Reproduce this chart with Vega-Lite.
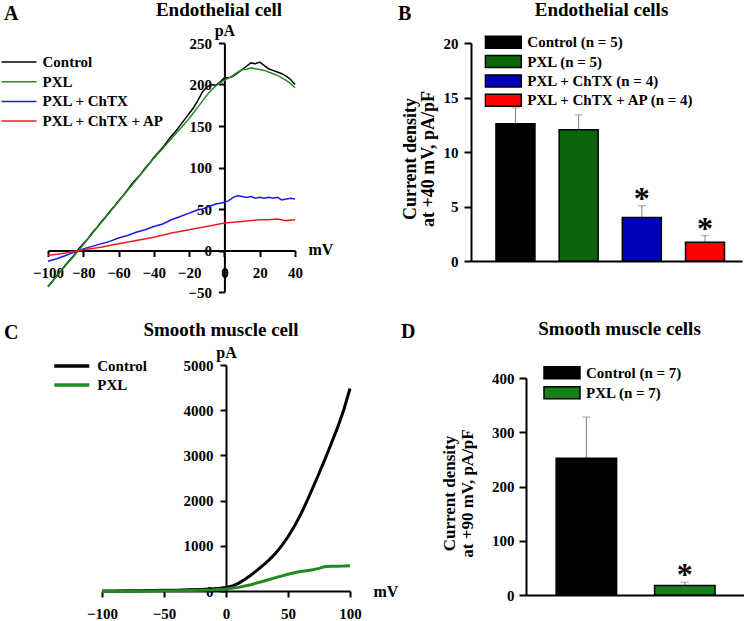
{
  "$schema": "https://vega.github.io/schema/vega-lite/v6.json",
  "background": "white",
  "padding": 0,
  "config": {
    "view": {"stroke": null},
    "font": "Liberation Serif",
    "axis": {"domainColor": "black", "domainWidth": 2, "tickColor": "black", "tickWidth": 2, "tickSize": 6, "labelFont": "Liberation Serif", "labelFontWeight": "bold", "labelColor": "black", "labelFontSize": 15, "titleFont": "Liberation Serif", "titleFontWeight": "bold", "titleColor": "black", "titleFontSize": 16, "grid": false, "labelOverlap": false, "labelFlush": false, "labelBound": false},
    "legend": {"labelFont": "Liberation Serif", "labelFontWeight": "bold", "labelFontSize": 15, "labelColor": "black", "labelLimit": 0, "padding": 0, "title": null},
    "title": {"font": "Liberation Serif", "fontWeight": "bold", "fontSize": 19, "color": "black", "offset": 0, "baseline": "alphabetic", "frame": "group"}
  },
  "resolve": {"scale": {"color": "independent"}, "legend": {"color": "independent"}},
  "datasets": {
    "ec": [
      {"trace": "Control", "mV": -100, "pA": -43}, {"trace": "Control", "mV": -97.5, "pA": -37}, {"trace": "Control", "mV": -95, "pA": -30}, {"trace": "Control", "mV": -92.5, "pA": -24}, {"trace": "Control", "mV": -90, "pA": -17}, {"trace": "Control", "mV": -87.5, "pA": -11}, {"trace": "Control", "mV": -85, "pA": -5}, {"trace": "Control", "mV": -82.5, "pA": 2}, {"trace": "Control", "mV": -80, "pA": 8}, {"trace": "Control", "mV": -77.5, "pA": 14}, {"trace": "Control", "mV": -75, "pA": 21}, {"trace": "Control", "mV": -72.5, "pA": 27}, {"trace": "Control", "mV": -70, "pA": 34}, {"trace": "Control", "mV": -67.5, "pA": 40}, {"trace": "Control", "mV": -65, "pA": 47}, {"trace": "Control", "mV": -62.5, "pA": 53}, {"trace": "Control", "mV": -60, "pA": 60}, {"trace": "Control", "mV": -57.5, "pA": 66}, {"trace": "Control", "mV": -55, "pA": 73}, {"trace": "Control", "mV": -52.5, "pA": 80}, {"trace": "Control", "mV": -50, "pA": 86}, {"trace": "Control", "mV": -47.5, "pA": 92}, {"trace": "Control", "mV": -45, "pA": 99}, {"trace": "Control", "mV": -42.5, "pA": 105}, {"trace": "Control", "mV": -40, "pA": 112}, {"trace": "Control", "mV": -37.5, "pA": 118}, {"trace": "Control", "mV": -35, "pA": 124}, {"trace": "Control", "mV": -32.5, "pA": 131}, {"trace": "Control", "mV": -30, "pA": 138}, {"trace": "Control", "mV": -27.5, "pA": 144}, {"trace": "Control", "mV": -25, "pA": 151}, {"trace": "Control", "mV": -22.5, "pA": 158}, {"trace": "Control", "mV": -20, "pA": 165}, {"trace": "Control", "mV": -17.5, "pA": 172}, {"trace": "Control", "mV": -15, "pA": 181}, {"trace": "Control", "mV": -12.5, "pA": 191}, {"trace": "Control", "mV": -10, "pA": 197}, {"trace": "Control", "mV": -7.5, "pA": 200}, {"trace": "Control", "mV": -5, "pA": 199}, {"trace": "Control", "mV": -2.5, "pA": 203}, {"trace": "Control", "mV": 0, "pA": 208}, {"trace": "Control", "mV": 2.5, "pA": 208}, {"trace": "Control", "mV": 5, "pA": 210}, {"trace": "Control", "mV": 7.5, "pA": 214}, {"trace": "Control", "mV": 10, "pA": 218}, {"trace": "Control", "mV": 12.5, "pA": 222}, {"trace": "Control", "mV": 15, "pA": 226}, {"trace": "Control", "mV": 17.5, "pA": 225}, {"trace": "Control", "mV": 20, "pA": 227}, {"trace": "Control", "mV": 22.5, "pA": 223}, {"trace": "Control", "mV": 25, "pA": 219}, {"trace": "Control", "mV": 27.5, "pA": 217}, {"trace": "Control", "mV": 30, "pA": 215}, {"trace": "Control", "mV": 32.5, "pA": 213}, {"trace": "Control", "mV": 35, "pA": 210}, {"trace": "Control", "mV": 37.5, "pA": 206}, {"trace": "Control", "mV": 40, "pA": 200},
      {"trace": "PXL", "mV": -100, "pA": -44}, {"trace": "PXL", "mV": -95, "pA": -31}, {"trace": "PXL", "mV": -90, "pA": -18}, {"trace": "PXL", "mV": -85, "pA": -6}, {"trace": "PXL", "mV": -80, "pA": 7}, {"trace": "PXL", "mV": -75, "pA": 20}, {"trace": "PXL", "mV": -70, "pA": 33}, {"trace": "PXL", "mV": -65, "pA": 46}, {"trace": "PXL", "mV": -60, "pA": 59}, {"trace": "PXL", "mV": -55, "pA": 72}, {"trace": "PXL", "mV": -50, "pA": 85}, {"trace": "PXL", "mV": -45, "pA": 98}, {"trace": "PXL", "mV": -40, "pA": 111}, {"trace": "PXL", "mV": -37.5, "pA": 117}, {"trace": "PXL", "mV": -35, "pA": 123}, {"trace": "PXL", "mV": -32.5, "pA": 129}, {"trace": "PXL", "mV": -30, "pA": 135}, {"trace": "PXL", "mV": -27.5, "pA": 141}, {"trace": "PXL", "mV": -25, "pA": 147}, {"trace": "PXL", "mV": -22.5, "pA": 153}, {"trace": "PXL", "mV": -20, "pA": 159}, {"trace": "PXL", "mV": -17.5, "pA": 166}, {"trace": "PXL", "mV": -15, "pA": 173}, {"trace": "PXL", "mV": -12.5, "pA": 180}, {"trace": "PXL", "mV": -10, "pA": 187}, {"trace": "PXL", "mV": -7.5, "pA": 193}, {"trace": "PXL", "mV": -5, "pA": 198}, {"trace": "PXL", "mV": -2.5, "pA": 202}, {"trace": "PXL", "mV": 0, "pA": 205}, {"trace": "PXL", "mV": 2.5, "pA": 208}, {"trace": "PXL", "mV": 5, "pA": 211}, {"trace": "PXL", "mV": 7.5, "pA": 215}, {"trace": "PXL", "mV": 10, "pA": 218}, {"trace": "PXL", "mV": 12.5, "pA": 218}, {"trace": "PXL", "mV": 15, "pA": 220}, {"trace": "PXL", "mV": 17.5, "pA": 219}, {"trace": "PXL", "mV": 20, "pA": 218}, {"trace": "PXL", "mV": 22.5, "pA": 217}, {"trace": "PXL", "mV": 25, "pA": 215}, {"trace": "PXL", "mV": 27.5, "pA": 213}, {"trace": "PXL", "mV": 30, "pA": 211}, {"trace": "PXL", "mV": 32.5, "pA": 208}, {"trace": "PXL", "mV": 35, "pA": 205}, {"trace": "PXL", "mV": 37.5, "pA": 201}, {"trace": "PXL", "mV": 40, "pA": 196},
      {"trace": "PXL + ChTX", "mV": -100, "pA": -13}, {"trace": "PXL + ChTX", "mV": -95, "pA": -10}, {"trace": "PXL + ChTX", "mV": -90, "pA": -6}, {"trace": "PXL + ChTX", "mV": -85, "pA": -2}, {"trace": "PXL + ChTX", "mV": -80, "pA": 2}, {"trace": "PXL + ChTX", "mV": -75, "pA": 5}, {"trace": "PXL + ChTX", "mV": -70, "pA": 8}, {"trace": "PXL + ChTX", "mV": -65, "pA": 11}, {"trace": "PXL + ChTX", "mV": -60, "pA": 15}, {"trace": "PXL + ChTX", "mV": -55, "pA": 18}, {"trace": "PXL + ChTX", "mV": -50, "pA": 22}, {"trace": "PXL + ChTX", "mV": -45, "pA": 25}, {"trace": "PXL + ChTX", "mV": -40, "pA": 29}, {"trace": "PXL + ChTX", "mV": -35, "pA": 32}, {"trace": "PXL + ChTX", "mV": -30, "pA": 37}, {"trace": "PXL + ChTX", "mV": -25, "pA": 41}, {"trace": "PXL + ChTX", "mV": -20, "pA": 45}, {"trace": "PXL + ChTX", "mV": -17.5, "pA": 47}, {"trace": "PXL + ChTX", "mV": -15, "pA": 49}, {"trace": "PXL + ChTX", "mV": -12.5, "pA": 50}, {"trace": "PXL + ChTX", "mV": -10, "pA": 52}, {"trace": "PXL + ChTX", "mV": -7.5, "pA": 54}, {"trace": "PXL + ChTX", "mV": -5, "pA": 56}, {"trace": "PXL + ChTX", "mV": -2.5, "pA": 57}, {"trace": "PXL + ChTX", "mV": 0, "pA": 58}, {"trace": "PXL + ChTX", "mV": 2.5, "pA": 60}, {"trace": "PXL + ChTX", "mV": 5, "pA": 64}, {"trace": "PXL + ChTX", "mV": 7.5, "pA": 66}, {"trace": "PXL + ChTX", "mV": 10, "pA": 65}, {"trace": "PXL + ChTX", "mV": 12.5, "pA": 64}, {"trace": "PXL + ChTX", "mV": 15, "pA": 65}, {"trace": "PXL + ChTX", "mV": 17.5, "pA": 63}, {"trace": "PXL + ChTX", "mV": 20, "pA": 64}, {"trace": "PXL + ChTX", "mV": 22.5, "pA": 63}, {"trace": "PXL + ChTX", "mV": 25, "pA": 64}, {"trace": "PXL + ChTX", "mV": 27.5, "pA": 63}, {"trace": "PXL + ChTX", "mV": 30, "pA": 64}, {"trace": "PXL + ChTX", "mV": 32.5, "pA": 61}, {"trace": "PXL + ChTX", "mV": 35, "pA": 62}, {"trace": "PXL + ChTX", "mV": 37.5, "pA": 63}, {"trace": "PXL + ChTX", "mV": 40, "pA": 62},
      {"trace": "PXL + ChTX + AP", "mV": -100, "pA": -6}, {"trace": "PXL + ChTX + AP", "mV": -90, "pA": -3}, {"trace": "PXL + ChTX + AP", "mV": -80, "pA": 1}, {"trace": "PXL + ChTX + AP", "mV": -70, "pA": 4}, {"trace": "PXL + ChTX + AP", "mV": -60, "pA": 8}, {"trace": "PXL + ChTX + AP", "mV": -50, "pA": 12}, {"trace": "PXL + ChTX + AP", "mV": -40, "pA": 16}, {"trace": "PXL + ChTX + AP", "mV": -30, "pA": 21}, {"trace": "PXL + ChTX + AP", "mV": -20, "pA": 25}, {"trace": "PXL + ChTX + AP", "mV": -15, "pA": 27}, {"trace": "PXL + ChTX + AP", "mV": -10, "pA": 29}, {"trace": "PXL + ChTX + AP", "mV": -5, "pA": 31}, {"trace": "PXL + ChTX + AP", "mV": 0, "pA": 33}, {"trace": "PXL + ChTX + AP", "mV": 5, "pA": 34}, {"trace": "PXL + ChTX + AP", "mV": 10, "pA": 35}, {"trace": "PXL + ChTX + AP", "mV": 15, "pA": 36}, {"trace": "PXL + ChTX + AP", "mV": 20, "pA": 37}, {"trace": "PXL + ChTX + AP", "mV": 25, "pA": 37}, {"trace": "PXL + ChTX + AP", "mV": 30, "pA": 38}, {"trace": "PXL + ChTX + AP", "mV": 35, "pA": 36}, {"trace": "PXL + ChTX + AP", "mV": 40, "pA": 37}
    ],
    "sm": [
      {"trace": "Control", "mV": -100, "pA": 0}, {"trace": "Control", "mV": -90, "pA": 2}, {"trace": "Control", "mV": -80, "pA": 4}, {"trace": "Control", "mV": -70, "pA": 7}, {"trace": "Control", "mV": -60, "pA": 10}, {"trace": "Control", "mV": -50, "pA": 14}, {"trace": "Control", "mV": -40, "pA": 18}, {"trace": "Control", "mV": -30, "pA": 25}, {"trace": "Control", "mV": -20, "pA": 35}, {"trace": "Control", "mV": -10, "pA": 50}, {"trace": "Control", "mV": -5, "pA": 62}, {"trace": "Control", "mV": 0, "pA": 80}, {"trace": "Control", "mV": 5, "pA": 110}, {"trace": "Control", "mV": 10, "pA": 170}, {"trace": "Control", "mV": 15, "pA": 255}, {"trace": "Control", "mV": 20, "pA": 350}, {"trace": "Control", "mV": 25, "pA": 455}, {"trace": "Control", "mV": 30, "pA": 570}, {"trace": "Control", "mV": 35, "pA": 695}, {"trace": "Control", "mV": 40, "pA": 835}, {"trace": "Control", "mV": 45, "pA": 1005}, {"trace": "Control", "mV": 50, "pA": 1200}, {"trace": "Control", "mV": 55, "pA": 1425}, {"trace": "Control", "mV": 60, "pA": 1680}, {"trace": "Control", "mV": 65, "pA": 1970}, {"trace": "Control", "mV": 70, "pA": 2280}, {"trace": "Control", "mV": 75, "pA": 2600}, {"trace": "Control", "mV": 80, "pA": 2930}, {"trace": "Control", "mV": 85, "pA": 3270}, {"trace": "Control", "mV": 90, "pA": 3620}, {"trace": "Control", "mV": 95, "pA": 4010}, {"trace": "Control", "mV": 100, "pA": 4480},
      {"trace": "PXL", "mV": -100, "pA": -10}, {"trace": "PXL", "mV": -90, "pA": -8}, {"trace": "PXL", "mV": -80, "pA": -5}, {"trace": "PXL", "mV": -70, "pA": -3}, {"trace": "PXL", "mV": -60, "pA": 0}, {"trace": "PXL", "mV": -50, "pA": 3}, {"trace": "PXL", "mV": -40, "pA": 7}, {"trace": "PXL", "mV": -30, "pA": 12}, {"trace": "PXL", "mV": -20, "pA": 18}, {"trace": "PXL", "mV": -10, "pA": 28}, {"trace": "PXL", "mV": 0, "pA": 45}, {"trace": "PXL", "mV": 10, "pA": 80}, {"trace": "PXL", "mV": 20, "pA": 140}, {"trace": "PXL", "mV": 30, "pA": 215}, {"trace": "PXL", "mV": 40, "pA": 295}, {"trace": "PXL", "mV": 50, "pA": 370}, {"trace": "PXL", "mV": 55, "pA": 405}, {"trace": "PXL", "mV": 60, "pA": 430}, {"trace": "PXL", "mV": 65, "pA": 450}, {"trace": "PXL", "mV": 70, "pA": 470}, {"trace": "PXL", "mV": 75, "pA": 500}, {"trace": "PXL", "mV": 80, "pA": 540}, {"trace": "PXL", "mV": 85, "pA": 550}, {"trace": "PXL", "mV": 90, "pA": 548}, {"trace": "PXL", "mV": 95, "pA": 552}, {"trace": "PXL", "mV": 100, "pA": 560}
    ],
    "ecb": [
      {"group": "Control (n = 5)", "mean": 12.6, "hi": 14.05, "sig": ""},
      {"group": "PXL (n = 5)", "mean": 12.05, "hi": 13.4, "sig": ""},
      {"group": "PXL + ChTX (n = 4)", "mean": 4.0, "hi": 5.07, "sig": "*"},
      {"group": "PXL + ChTX + AP (n = 4)", "mean": 1.71, "hi": 2.32, "sig": "*"}
    ],
    "smb": [
      {"group": "Control (n = 7)", "mean": 252, "hi": 328, "sig": ""},
      {"group": "PXL (n = 7)", "mean": 17.5, "hi": 23.5, "sig": "*"}
    ]
  },
  "vconcat": [
    {
      "title": {"text": "A", "anchor": "start", "align": "left", "dx": -44, "dy": 27.5, "fontSize": 20},
      "resolve": {"scale": {"color": "independent"}, "legend": {"color": "independent"}},
      "spacing": 65,
      "hconcat": [
        {
          "title": {"text": "Endothelial cell", "anchor": "start", "align": "center", "dx": 171, "dy": 1.5},
          "width": 247, "height": 249,
          "data": {"name": "ec"},
          "mark": {"type": "line", "strokeWidth": 1.5},
          "encoding": {
            "x": {"field": "mV", "type": "quantitative", "scale": {"domain": [-100, 40], "nice": false},
              "axis": {"values": [-100, -80, -60, -40, -20, 0, 20, 40], "offset": -41.5, "labelPadding": 9, "title": "mV", "titleX": 260, "titleY": -1, "titleAlign": "left", "titleBaseline": "middle"}},
            "y": {"field": "pA", "type": "quantitative", "scale": {"domain": [-50, 250], "nice": false},
              "axis": {"values": [-50, 0, 50, 100, 150, 200, 250], "offset": -176.4, "labelPadding": 7, "title": "pA", "titleAngle": 0, "titleX": 0, "titleY": -8, "titleAlign": "center", "titleBaseline": "alphabetic"}},
            "color": {"field": "trace", "type": "nominal",
              "scale": {"domain": ["Control", "PXL", "PXL + ChTX", "PXL + ChTX + AP"], "range": ["#000000", "#2a8a2a", "#1a1ae8", "#ee1c1c"]},
              "legend": {"orient": "none", "legendX": -47.5, "legendY": 11.5, "symbolType": "stroke", "symbolSize": 1225, "symbolStrokeWidth": 1.5, "labelOffset": 5, "clipHeight": 15, "rowPadding": 3.7}}
          }
        },
        {
          "title": {"text": "B", "anchor": "start", "align": "left", "dx": -73, "dy": 27.5, "fontSize": 20},
          "resolve": {"scale": {"color": "independent"}, "legend": {"color": "independent"}},
          "vconcat": [
            {
              "title": {"text": "Endothelial cells", "anchor": "start", "align": "center", "dx": 130.5, "dy": -11},
              "width": 271, "height": 218,
              "data": {"name": "ecb"},
              "encoding": {
                "x": {"field": "group", "type": "nominal", "sort": null,
                  "scale": {"domain": ["Control (n = 5)", "PXL (n = 5)", "PXL + ChTX (n = 4)", "PXL + ChTX + AP (n = 4)"], "paddingInner": 0.383, "paddingOuter": 0.336, "align": 0.588},
                  "axis": {"labels": false, "ticks": false, "title": null}}
              },
              "layer": [
                {"mark": {"type": "rule", "color": "#7f7f7f", "strokeWidth": 1},
                  "encoding": {"y": {"field": "mean", "type": "quantitative", "scale": {"domain": [0, 20], "nice": false},
                    "axis": {"values": [0, 5, 10, 15, 20], "tickSize": 7, "labelPadding": 6, "title": ["Current density", "at +40 mV, pA/pF"], "titleFontSize": 18, "titleLineHeight": 18, "titlePadding": 6, "titleY": 115.5}},
                    "y2": {"field": "hi"}}},
                {"mark": {"type": "tick", "orient": "horizontal", "size": 8, "thickness": 1, "color": "#7f7f7f"},
                  "encoding": {"y": {"field": "hi", "type": "quantitative"}}},
                {"mark": {"type": "bar", "stroke": "black", "strokeWidth": 1.5},
                  "encoding": {"y": {"field": "mean", "type": "quantitative"},
                    "color": {"field": "group", "type": "nominal",
                      "scale": {"domain": ["Control (n = 5)", "PXL (n = 5)", "PXL + ChTX (n = 4)", "PXL + ChTX + AP (n = 4)"], "range": ["#000000", "#0b650b", "#0000bb", "#ff0000"]},
                      "legend": {"orient": "none", "legendX": 13.3, "legendY": -8.2, "symbolType": "M-1,-0.3333H1V0.3333H-1Z", "symbolSize": 1296, "symbolStrokeColor": "black", "symbolStrokeWidth": 1.5, "symbolOpacity": 1, "labelOffset": 5, "clipHeight": 15, "rowPadding": 3.3}}}},
                {"mark": {"type": "text", "dy": -7, "fontSize": 32, "fontWeight": "bold", "baseline": "middle", "font": "Liberation Serif", "color": "black"},
                  "encoding": {"y": {"field": "hi", "type": "quantitative"}, "text": {"field": "sig"}}}
              ]
            }
          ]
        }
      ]
    },
    {
      "title": {"text": "C", "anchor": "start", "align": "left", "dx": -44, "dy": 27, "fontSize": 20},
      "resolve": {"scale": {"color": "independent"}, "legend": {"color": "independent"}},
      "spacing": 3,
      "hconcat": [
        {"width": 1, "height": 1, "data": {"values": []}, "mark": "point"},
        {
          "title": {"text": "Smooth muscle cell", "anchor": "start", "align": "center", "dx": 119, "dy": 0},
          "width": 248, "height": 226,
          "data": {"name": "sm"},
          "mark": {"type": "line", "strokeWidth": 3},
          "encoding": {
            "x": {"field": "mV", "type": "quantitative", "scale": {"domain": [-100, 100], "nice": false},
              "axis": {"values": [-100, -50, 0, 50, 100], "labelPadding": 9, "title": "mV", "titleX": 271, "titleY": 0, "titleAlign": "left", "titleBaseline": "middle"}},
            "y": {"field": "pA", "type": "quantitative", "scale": {"domain": [0, 5000], "nice": false},
              "axis": {"values": [0, 1000, 2000, 3000, 4000, 5000], "format": "d", "offset": -124, "labelPadding": 7, "title": "pA", "titleAngle": 0, "titleX": 0, "titleY": -8, "titleAlign": "center", "titleBaseline": "alphabetic"}},
            "color": {"field": "trace", "type": "nominal",
              "scale": {"domain": ["Control", "PXL"], "range": ["#000000", "#1f8c1f"]},
              "legend": {"orient": "none", "legendX": -49.75, "legendY": -6.5, "symbolType": "stroke", "symbolSize": 1225, "symbolStrokeWidth": 3.5, "labelOffset": 6, "clipHeight": 15, "rowPadding": 3}}
          }
        },
        {
          "title": {"text": "D", "anchor": "start", "align": "left", "dx": -125, "dy": 25.6, "fontSize": 20},
          "resolve": {"scale": {"color": "independent"}, "legend": {"color": "independent"}},
          "spacing": -47,
          "vconcat": [
            {"width": 1, "height": 1, "data": {"values": []}, "mark": "point"},
            {
              "title": {"text": "Smooth muscle cells", "anchor": "start", "align": "center", "dx": 93.5, "dy": -22.3},
              "width": 218, "height": 217,
              "data": {"name": "smb"},
              "encoding": {
                "x": {"field": "group", "type": "nominal", "sort": null,
                  "scale": {"domain": ["Control (n = 7)", "PXL (n = 7)"], "paddingInner": 0.386, "paddingOuter": 0.3, "align": 0.51},
                  "axis": {"labels": false, "ticks": false, "title": null}}
              },
              "layer": [
                {"mark": {"type": "rule", "color": "#7f7f7f", "strokeWidth": 1},
                  "encoding": {"y": {"field": "mean", "type": "quantitative", "scale": {"domain": [0, 400], "nice": false},
                    "axis": {"values": [0, 100, 200, 300, 400], "tickSize": 7, "labelPadding": 5, "title": ["Current density", "at +90 mV, pA/pF"], "titleFontSize": 17, "titleLineHeight": 18, "titlePadding": 15, "titleY": 115}},
                    "y2": {"field": "hi"}}},
                {"mark": {"type": "tick", "orient": "horizontal", "size": 8, "thickness": 1, "color": "#7f7f7f"},
                  "encoding": {"y": {"field": "hi", "type": "quantitative"}}},
                {"mark": {"type": "bar", "stroke": "black", "strokeWidth": 1.5},
                  "encoding": {"y": {"field": "mean", "type": "quantitative"},
                    "color": {"field": "group", "type": "nominal",
                      "scale": {"domain": ["Control (n = 7)", "PXL (n = 7)"], "range": ["#000000", "#17801a"]},
                      "legend": {"orient": "none", "legendX": 17, "legendY": -12.8, "symbolType": "M-1,-0.3333H1V0.3333H-1Z", "symbolSize": 1296, "symbolStrokeColor": "black", "symbolStrokeWidth": 1.5, "symbolOpacity": 1, "labelOffset": 5, "clipHeight": 15, "rowPadding": 4}}}},
                {"mark": {"type": "text", "dy": -7, "fontSize": 32, "fontWeight": "bold", "baseline": "middle", "font": "Liberation Serif", "color": "black"},
                  "encoding": {"y": {"field": "hi", "type": "quantitative"}, "text": {"field": "sig"}}}
              ]
            }
          ]
        }
      ]
    }
  ],
  "spacing": 19
}
